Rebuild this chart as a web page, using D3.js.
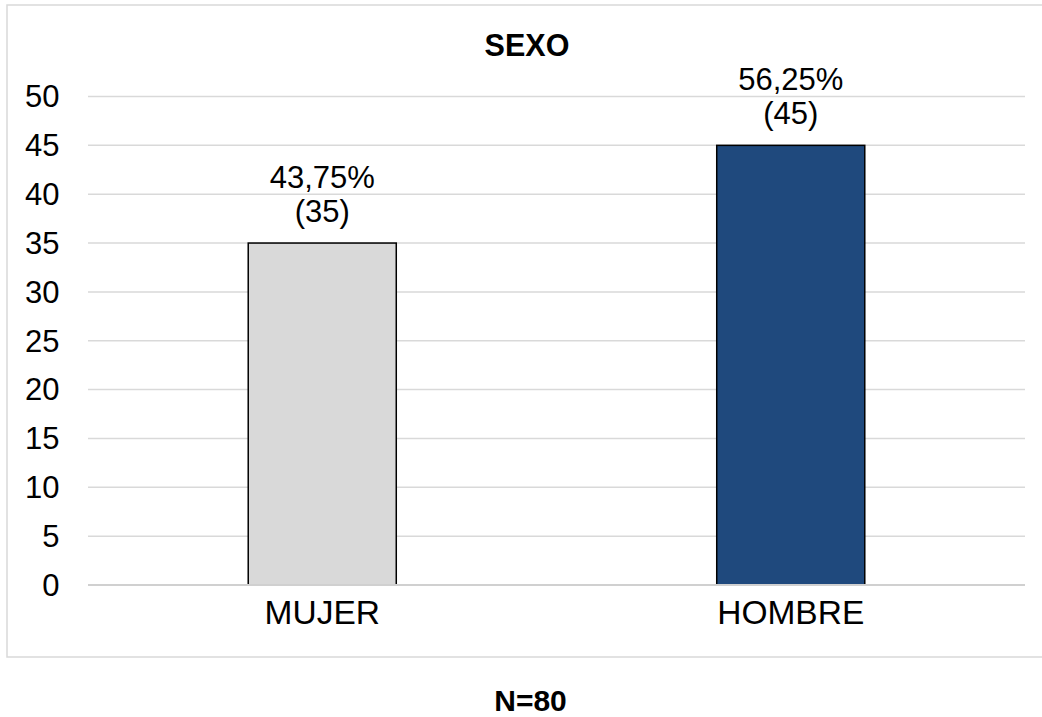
<!DOCTYPE html>
<html>
<head>
<meta charset="utf-8">
<script src="https://cdn.jsdelivr.net/npm/d3@7"></script>
<style>
html,body{margin:0;padding:0;background:#fff;}
svg{display:block;font-family:"Liberation Sans",Arial,sans-serif;}
</style>
</head>
<body>
<svg id="chart" width="1042" height="717"></svg>
<script>
const categories = ["MUJER", "HOMBRE"];
const counts = [35, 45];
const percentLabels = ["43,75%", "56,25%"];
const yTicks = [0, 5, 10, 15, 20, 25, 30, 35, 40, 45, 50];
const barColors = ["#d9d9d9", "#1f497d"];
const title = "SEXO";
const footnote = "N=80";

const svg = d3.select("#chart");

// chart border
svg.append("rect")
  .attr("x", 7).attr("y", 5)
  .attr("width", 1050).attr("height", 652)
  .attr("fill", "#fff").attr("stroke", "#d9d9d9").attr("stroke-width", 1.5);

const plot = {left: 88, right: 1025, top: 96.5, bottom: 585};

const x = d3.scaleBand().domain(categories)
  .range([plot.left, plot.right]).paddingInner(0.684).paddingOuter(0.342);
const y = d3.scaleLinear().domain([0, 50]).range([plot.bottom, plot.top]);

// gridlines
svg.append("g").selectAll("line").data(yTicks.filter(d => d !== 0)).join("line")
  .attr("x1", plot.left).attr("x2", plot.right)
  .attr("y1", d => y(d)).attr("y2", d => y(d))
  .attr("stroke", "#d9d9d9").attr("stroke-width", 1.5);

// y tick labels
svg.append("g").selectAll("text").data(yTicks).join("text")
  .attr("x", 59.5).attr("y", d => y(d)).attr("dy", "0.35em")
  .attr("text-anchor", "end")
  .attr("font-size", 31).attr("fill", "#000")
  .text(d => d);

// bars
const data = categories.map((c, i) => ({c, v: counts[i], p: percentLabels[i], col: barColors[i]}));
svg.append("g").selectAll("rect").data(data).join("rect")
  .attr("x", d => x(d.c)).attr("width", x.bandwidth())
  .attr("y", d => y(d.v)).attr("height", d => y(0) - y(d.v))
  .attr("fill", d => d.col).attr("stroke", "#000").attr("stroke-width", 1.5);

// baseline
svg.append("line")
  .attr("x1", plot.left).attr("x2", plot.right)
  .attr("y1", y(0)).attr("y2", y(0))
  .attr("stroke", "#d0d0d0").attr("stroke-width", 2);

// data labels
const lbl = svg.append("g").selectAll("g").data(data).join("g");
lbl.append("text")
  .attr("x", d => x(d.c) + x.bandwidth() / 2).attr("y", d => y(d.v) - 55)
  .attr("text-anchor", "middle").attr("font-size", 31).attr("fill", "#000")
  .text(d => d.p);
lbl.append("text")
  .attr("x", d => x(d.c) + x.bandwidth() / 2).attr("y", d => y(d.v) - 21)
  .attr("text-anchor", "middle").attr("font-size", 31).attr("fill", "#000")
  .text(d => "(" + d.v + ")");

// category labels
svg.append("g").selectAll("text").data(categories).join("text")
  .attr("x", d => x(d) + x.bandwidth() / 2).attr("y", 623.5)
  .attr("text-anchor", "middle").attr("font-size", 33.5).attr("fill", "#000")
  .text(d => d);

// title
svg.append("text").attr("x", 527).attr("y", 56)
  .attr("text-anchor", "middle").attr("font-size", 30.5).attr("font-weight", "bold")
  .text(title);

// footnote
svg.append("text").attr("x", 530.5).attr("y", 711)
  .attr("text-anchor", "middle").attr("font-size", 30).attr("font-weight", "bold")
  .text(footnote);
</script>
</body>
</html>
